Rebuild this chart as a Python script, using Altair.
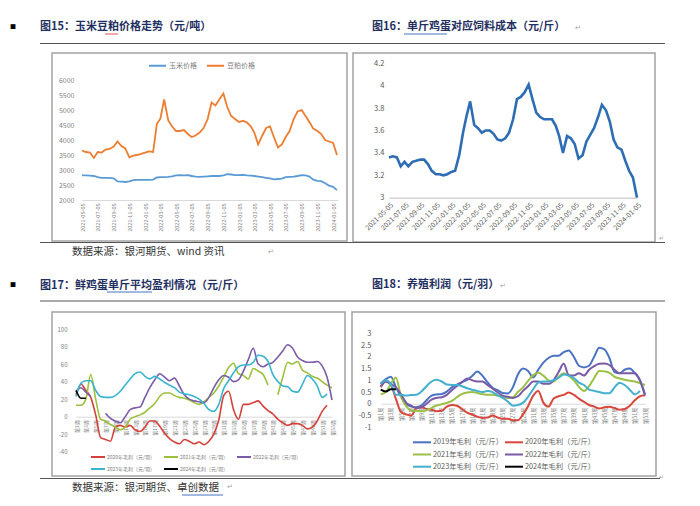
import altair as alt
import pandas as pd

# ---------------- data ----------------
DATES = [
    "2021-05-05", "2021-05-20", "2021-06-05", "2021-06-20", "2021-07-05", "2021-07-20",
    "2021-08-05", "2021-08-20", "2021-09-05", "2021-09-20", "2021-10-05", "2021-10-20",
    "2021-11-05", "2021-11-20", "2021-12-05", "2021-12-20", "2022-01-05", "2022-01-20",
    "2022-02-05", "2022-02-20", "2022-03-05", "2022-03-20", "2022-04-05", "2022-04-20",
    "2022-05-05", "2022-05-20", "2022-06-05", "2022-06-20", "2022-07-05", "2022-07-20",
    "2022-08-05", "2022-08-20", "2022-09-05", "2022-09-20", "2022-10-05", "2022-10-20",
    "2022-11-05", "2022-11-20", "2022-12-05", "2022-12-20", "2023-01-05", "2023-01-20",
    "2023-02-05", "2023-02-20", "2023-03-05", "2023-03-20", "2023-04-05", "2023-04-20",
    "2023-05-05", "2023-05-20", "2023-06-05", "2023-06-20", "2023-07-05", "2023-07-20",
    "2023-08-05", "2023-08-20", "2023-09-05", "2023-09-20", "2023-10-05", "2023-10-20",
    "2023-11-05", "2023-11-20", "2023-12-05", "2023-12-20", "2024-01-05", "2024-01-20",
]
CORN_PRICE = [
    2820, 2820, 2810, 2800, 2760, 2740, 2740, 2740, 2720, 2620,
    2610, 2600, 2620, 2660, 2670, 2670, 2670, 2670, 2680, 2750,
    2760, 2760, 2770, 2790, 2820, 2830, 2820, 2830, 2800, 2780,
    2770, 2780, 2790, 2800, 2800, 2800, 2820, 2860, 2850, 2830,
    2830, 2840, 2820, 2810, 2800, 2780, 2760, 2740, 2720, 2690,
    2700, 2710, 2760, 2770, 2780, 2800, 2830, 2820, 2780, 2680,
    2640, 2630, 2560, 2480, 2440, 2330,
]
MEAL_PRICE = [
    3650, 3600, 3580, 3400, 3600, 3580, 3680, 3700, 3780, 3950,
    3800, 3720, 3420, 3480, 3500, 3540, 3580, 3620, 3600, 4550,
    4700, 5350, 4650, 4450, 4300, 4300, 4330, 4200, 4100, 4150,
    4250, 4400, 4700, 5250, 5150, 5350, 5550, 5100, 4800, 4700,
    4600, 4640, 4580, 4450, 4250, 3850, 4150, 4400, 4450, 4100,
    3750, 3850, 4100, 4300, 4700, 4950, 5000, 4800, 4600, 4380,
    4300, 4200, 4000, 3950, 3900, 3500,
]
SERIES_15 = ["玉米价格", "豆粕价格"]
TICK_MONTHS = [(2021, 5), (2021, 7), (2021, 9), (2021, 11), (2022, 1), (2022, 3),
               (2022, 5), (2022, 7), (2022, 9), (2022, 11), (2023, 1), (2023, 3),
               (2023, 5), (2023, 7), (2023, 9), (2023, 11), (2024, 1)]

FEED_COST = [
    3.36, 3.37, 3.36, 3.28, 3.32, 3.28, 3.32, 3.33, 3.34, 3.34,
    3.30, 3.24, 3.21, 3.21, 3.20, 3.21, 3.23, 3.24, 3.38, 3.58,
    3.72, 3.86, 3.65, 3.62, 3.58, 3.60, 3.60, 3.57, 3.52, 3.51,
    3.53, 3.58, 3.70, 3.88, 3.90, 3.94, 4.01, 3.88, 3.76, 3.72,
    3.70, 3.70, 3.70, 3.64, 3.55, 3.40, 3.55, 3.53, 3.48, 3.35,
    3.38, 3.50, 3.56, 3.62, 3.72, 3.83, 3.78, 3.68, 3.52, 3.45,
    3.43, 3.33, 3.24, 3.18, 3.00,
]

WEEKS = list(range(1, 54))

SERIES_17 = ["2020年毛利（元/羽）", "2021年毛利（元/羽）", "2022年毛利（元/羽）",
             "2023年毛利（元/羽）", "2024年毛利（元/羽）"]
P17_2020 = [25, 37, 30, 22, 2, -24, -26, -28, -12, -10,
            -12, -10, -15, -17, -12, -5, -5, -11, -19, -25,
            -29, -31, -26, -28, -31, -29, -32, -28, -20, -4,
            24, 29, 8, -3, 14, 14, 16, 18, 12, 7,
            3, -3, -7, -10, -8, -8, -10, -14, -12, -5,
            6, 13]
P17_2021 = [13, 13, 20, 48, 20, -3, -5, -9, -12, -15,
            -12, -3, 0, 2, 5, 10, 15, 23, 27, 27,
            24, 22, 21, 19, 16, 14, 17, 22, 27, 35,
            45, 56, 61, 49, 47, 43, 55, 52, 48, 36,
            None, 25, 45, 62, 60, 63, 53, 50, 46, 44,
            40, 36, 33]
P17_2022 = [28, 33, 28, 23, None, None, 4, -2, -5, -7,
            0, 8, 10, 11, 22, 33, 42, 49, 45, 41,
            44, 35, 25, 20, 18, 17, 16, 22, 33, 42,
            47, 45, 40, 42, 52, 65, 78, 60, 57, 60,
            62, 68, 75, 82, 78, 68, 64, 62, 62, 63,
            58, 45, 19]
P17_2023 = [23, 38, 41, 41, 30, 23, 22, 22, 24, 29,
            36, 43, 49, 51, 46, 43, 46, 43, 39, 36,
            33, 28, 26, 25, 23, 20, 15, 8, 6, 14,
            32, 41, 50, 57, 59, 59, 62, 70, 69, 63,
            48, 40, 35, 34, 29, 28, 37, 47, 43, 35,
            22, 26]
P17_2024 = [30, 21, 21]
COLORS_17 = ["#d6403a", "#9dc03c", "#7c5ca8", "#39b4d0", "#000000"]

SERIES_18 = ["2019年毛利（元/斤）", "2020年毛利（元/斤）", "2021年毛利（元/斤）",
             "2022年毛利（元/斤）", "2023年毛利（元/斤）", "2024年毛利（元/斤）"]
P18_2019 = [0.85, 1.05, 1.15, 0.7, 0.3, 0.0, -0.12, -0.15, -0.08, 0.15,
            0.35, 0.4, 0.42, 0.52, 0.7, 0.82, 0.92, 1.02, 1.18, 1.37,
            1.2, 0.92, 0.68, 0.58, 0.46, 0.44, 0.7, 1.25, 1.5, 1.4,
            1.12, 1.45, 1.75, 1.95, 2.05, 2.05, 2.2, 2.27, 2.0, 1.62,
            1.55, 1.62, 2.0, 2.38, 2.32, 1.95, 1.35, 1.3, 1.45, 1.5,
            1.3, 1.0, 0.4]
P18_2020 = [0.7, 0.95, 0.8, 0.2, -0.35, -0.45, -0.5, -0.2, -0.15, -0.22,
            -0.25, -0.32, -0.3, -0.12, -0.05, -0.08, -0.22, -0.38, -0.46, -0.55,
            -0.6, -0.58, -0.5, -0.58, -0.64, -0.64, -0.7, -0.7, -0.45, -0.1,
            0.35, 0.55, 0.05, -0.12, 0.22, 0.32, 0.38, 0.48, 0.38, 0.22,
            0.08, -0.05, -0.12, -0.2, -0.15, -0.13, -0.18, -0.25, -0.22, -0.08,
            0.15, 0.32, 0.36]
P18_2021 = [0.4, 0.5, 0.85, 1.12, 0.3, -0.1, -0.28, -0.3, -0.32, -0.28,
            -0.18, -0.07, -0.02, 0.04, 0.12, 0.28, 0.42, 0.48, 0.5, 0.46,
            0.41, 0.38, 0.38, 0.35, 0.3, 0.25, 0.28, 0.5, 0.7, 0.98,
            1.22, 1.32, 1.2, 1.0, 0.95, 1.15, 1.3, 1.2, 1.0, 0.72,
            0.55, 0.75, 1.1, 1.4, 1.38, 1.32, 1.15, 1.08, 1.02, 0.98,
            0.95, 0.88, 0.8]
P18_2022 = [0.75, 0.95, 0.85, 0.7, 0.4, 0.05, -0.08, -0.18, -0.15, 0.0,
            0.18, 0.25, 0.28, 0.38, 0.58, 0.76, 0.92, 1.08, 1.0, 0.95,
            0.95, 0.8, 0.65, 0.48, 0.35, 0.3, 0.25, 0.32, 0.55, 0.75,
            0.95, 0.95, 0.85, 0.85, 1.0, 1.35, 1.7, 1.22, 1.2, 1.3,
            1.2, 1.45, 1.6, 1.7, 1.72, 1.65, 1.45, 1.3, 1.3, 1.3,
            1.3, 1.0, 0.35]
P18_2023 = [0.85, 1.0, 0.85, 0.38, 0.38, 0.35, 0.37, 0.38, 0.52, 0.75,
            0.95, 1.02, 0.95, 0.82, 0.8, 0.8, 0.75, 0.66, 0.6, 0.55,
            0.5, 0.55, 0.5, 0.36, 0.25, 0.1, -0.08, -0.05, 0.05, 0.3,
            0.62, 0.9, 0.95, 0.95, 1.0, 1.1, 1.25, 1.2, 1.1, 0.9,
            0.8, 0.6, 0.55, 0.5, 0.45, 0.45, 0.7, 0.9, 0.8, 0.6,
            0.4, 0.55]
P18_2024 = [0.6, 0.52, 0.62, 0.62]
COLORS_18 = ["#4a72c4", "#d8463c", "#9cc045", "#7a5aa6", "#43b0d0", "#000000"]

# ---------------- layout helpers ----------------
W, H = 684, 490          # whole canvas (page minus 8px margins)
M = 8                    # page margin
CJK = "Noto Sans CJK SC"
NAVY = "#1f2f5f"
ONE = pd.DataFrame({"k": [0]})
DATE_LABEL = "utcFormat(datum.value, '%Y-%m-%d')"


def vx(x):
    return x - M


def vy(y):
    return y - M


def long_df(xs, named):
    rows = []
    for name, vals in named:
        seg = 0
        for x, v in zip(xs, vals):
            if v is None:
                seg += 1
                continue
            rows.append({"x": x, "value": v, "series": name, "seg": f"{name}-{seg}"})
    return pd.DataFrame(rows)


def text(t, x, y, size, color, weight="normal", align="left"):
    return alt.Chart(ONE).mark_text(
        text=t, align=align, baseline="middle", fontSize=size, color=color,
        fontWeight=weight, font=CJK,
    ).encode(x=alt.value(vx(x)), y=alt.value(vy(y)))


def hline(x0, x1, y, color="#555555", w=1.0):
    return alt.Chart(ONE).mark_rule(color=color, strokeWidth=w).encode(
        x=alt.value(vx(x0)), x2=alt.value(vx(x1)), y=alt.value(vy(y)))


def frame(x0, y0, x1, y1):
    return alt.Chart(ONE).mark_rect(fill="transparent", stroke="#a3a3a3", strokeWidth=1.5).encode(
        x=alt.value(vx(x0)), x2=alt.value(vx(x1)), y=alt.value(vy(y0)), y2=alt.value(vy(y1)))


def utc(y, m, d):
    return alt.DateTime(year=y, month=m, date=d, utc=True)


decor = [
    frame(52, 53, 347, 241), frame(353, 53, 655, 242),
    frame(52, 312, 345, 476), frame(352, 312, 656, 476),
    text("■", 10, 27, 6, "#000000"),
    text("图15：玉米豆粕价格走势（元/吨）", 40, 27, 11, NAVY, "bold"),
    text("图16：单斤鸡蛋对应饲料成本（元/斤）", 372, 27, 11, NAVY, "bold"),
    text("↵", 575, 28, 7, "#a0a0a0"),
    hline(404, 447, 34, "#4472c4", 1), hline(105, 118, 34, "#e05050", 1),
    hline(40, 665, 43.5),
    hline(40, 665, 242.5),
    text("数据来源：银河期货、wind 资讯", 72, 252, 10.5, "#333333"),
    text("↵", 268, 252, 7, "#a0a0a0"),
    text("↵", 659, 238, 6, "#a0a0a0"),
    text("■", 10, 285, 6, "#000000"),
    text("图17：鲜鸡蛋单斤平均盈利情况（元/斤）", 40, 286, 11, NAVY, "bold"),
    hline(107, 152, 292, "#4472c4", 1),
    text("图18：养殖利润（元/羽）", 372, 285, 11, NAVY, "bold"),
    text("↵", 500, 286, 7, "#a0a0a0"),
    hline(40, 665, 301),
    hline(40, 660, 478.5),
    text("数据来源：银河期货、卓创数据", 72, 488, 10.5, "#333333"),
    hline(182, 223, 495, "#4472c4", 1),
    text("↵", 227, 487, 7, "#a0a0a0"),
    text("↵", 659, 477, 6, "#a0a0a0"),
]

# legend of panel 18 (2 columns x 3 rows), drawn as rule + text per series
for i, (name, col) in enumerate(zip(SERIES_18, COLORS_18)):
    lx = 413 + 92 * (i % 2)
    ly = 442.3 + 12.2 * (i // 2)
    decor.append(hline(lx, lx + 18, ly, col, 2))
    decor.append(text(name, lx + 20, ly, 7.3, "#595959"))

# ---------------- panel 15 ----------------
df15 = long_df(DATES, [(SERIES_15[0], CORN_PRICE), (SERIES_15[1], MEAL_PRICE)])
p15 = alt.Chart(df15).mark_line(strokeWidth=1.8).encode(
    x=alt.X("x:T",
            scale=alt.Scale(type="utc", domain=[utc(2021, 5, 5), utc(2024, 1, 24)],
                            range=[vx(82), vx(338)], nice=False),
            axis=alt.Axis(orient="bottom", offset=vy(200) - H, zindex=1,
                          values=[utc(y, m, 5) for y, m in TICK_MONTHS],
                          labelExpr=DATE_LABEL, labelAngle=270,
                          labelFontSize=5.5, labelColor="#7f7f7f", labelPadding=3,
                          labelFlush=False, labelOverlap=False, labelFont=CJK,
                          domainColor="#d9d9d9", ticks=False, grid=False, title=None)),
    y=alt.Y("value:Q",
            scale=alt.Scale(domain=[2000, 6000], range=[vy(200), vy(80)], nice=False, zero=False),
            axis=alt.Axis(orient="left", offset=-vx(76), zindex=1,
                          values=[2000, 2500, 3000, 3500, 4000, 4500, 5000, 5500, 6000],
                          labelExpr="'' + datum.value",
                          labelFontSize=7, labelColor="#7f7f7f", labelPadding=2,
                          labelFont=CJK, domain=False, ticks=False, grid=False, title=None)),
    color=alt.Color("series:N",
                    scale=alt.Scale(domain=SERIES_15, range=["#5b9bd5", "#ed7d31"]),
                    legend=alt.Legend(orient="none", legendX=vx(148), legendY=vy(56),
                                      direction="horizontal", title=None, symbolType="stroke",
                                      symbolSize=289, symbolStrokeWidth=2, labelFontSize=7,
                                      labelColor="#7f7f7f", labelFont=CJK, labelOffset=2,
                                      columnPadding=6, padding=0)),
    detail="seg:N",
)

# ---------------- panel 16 ----------------
df16 = long_df(DATES, [("饲料成本", FEED_COST)])
p16 = alt.Chart(df16).mark_line(strokeWidth=2.6, color="#2e6db4").encode(
    x=alt.X("x:T",
            scale=alt.Scale(type="utc", domain=[utc(2021, 5, 5), utc(2024, 1, 5)],
                            range=[vx(389), vx(637)], nice=False),
            axis=alt.Axis(orient="bottom", offset=vy(197.7) - H, zindex=1,
                          values=[utc(y, m, 5) for y, m in TICK_MONTHS],
                          labelExpr=DATE_LABEL, labelAngle=315,
                          labelFontSize=7, labelColor="#595959", labelPadding=3,
                          labelFlush=False, labelOverlap=False, labelFont=CJK,
                          domainColor="#bfbfbf", ticks=False, grid=False, title=None)),
    y=alt.Y("value:Q",
            scale=alt.Scale(domain=[3, 4.2], range=[vy(197.7), vy(63.3)], nice=False, zero=False),
            axis=alt.Axis(orient="left", offset=-vx(386), zindex=1,
                          values=[3, 3.2, 3.4, 3.6, 3.8, 4, 4.2],
                          labelExpr="'' + datum.value",
                          labelFontSize=7.5, labelColor="#595959", labelPadding=2,
                          labelFont=CJK, domain=False, ticks=False, grid=False, title=None)),
)

# ---------------- panel 17 ----------------
df17 = long_df(WEEKS, list(zip(SERIES_17, [P17_2020, P17_2021, P17_2022, P17_2023, P17_2024])))
p17 = alt.Chart(df17).mark_line(strokeWidth=1.6, interpolate="monotone").encode(
    x=alt.X("x:Q",
            scale=alt.Scale(domain=[1, 53], range=[vx(76), vx(332)], nice=False, zero=False),
            axis=alt.Axis(orient="bottom", offset=vy(416.7) - H,
                          values=list(range(1, 54, 2)),
                          labelExpr="'第' + datum.value + '周'", labelAngle=270,
                          labelFontSize=5, labelColor="#7f7f7f", labelPadding=3,
                          labelFlush=False, labelOverlap=False, labelFont=CJK,
                          domainColor="#d9d9d9", ticks=False, grid=False, title=None)),
    y=alt.Y("value:Q",
            scale=alt.Scale(domain=[-40, 100], range=[vy(451.7), vy(329)], nice=False, zero=False),
            axis=alt.Axis(orient="left", offset=-vx(69),
                          values=[-40, -20, 0, 20, 40, 60, 80, 100],
                          labelExpr="'' + datum.value",
                          labelFontSize=6, labelColor="#7f7f7f", labelPadding=2,
                          labelFont=CJK, domain=False, ticks=False, grid=False, title=None)),
    color=alt.Color("series:N",
                    scale=alt.Scale(domain=SERIES_17, range=COLORS_17),
                    legend=alt.Legend(orient="none", legendX=vx(90), legendY=vy(449),
                                      direction="horizontal", columns=3, title=None,
                                      symbolType="stroke", symbolSize=196, symbolStrokeWidth=2,
                                      labelFontSize=5, labelColor="#7f7f7f", labelFont=CJK,
                                      labelOffset=1, columnPadding=4, rowPadding=0, padding=0)),
    detail="seg:N",
)

# ---------------- panel 18 ----------------
df18 = long_df(WEEKS, list(zip(SERIES_18, [P18_2019, P18_2020, P18_2021, P18_2022, P18_2023, P18_2024])))
p18 = alt.Chart(df18).mark_line(strokeWidth=2, interpolate="monotone").encode(
    x=alt.X("x:Q",
            scale=alt.Scale(domain=[1, 53], range=[vx(380.7), vx(645)], nice=False, zero=False),
            axis=alt.Axis(orient="bottom", offset=vy(403.7) - H,
                          values=list(range(1, 54, 2)),
                          labelExpr="'第' + datum.value + '周'", labelAngle=270,
                          labelFontSize=5.5, labelColor="#7f7f7f", labelPadding=3,
                          labelFlush=False, labelOverlap=False, labelFont=CJK,
                          domainColor="#d9d9d9", ticks=False, grid=False, title=None)),
    y=alt.Y("value:Q",
            scale=alt.Scale(domain=[-1, 3], range=[vy(427.3), vy(333.3)], nice=False, zero=False),
            axis=alt.Axis(orient="left", offset=-vx(373), zindex=1,
                          values=[-1, -0.5, 0, 0.5, 1, 1.5, 2, 2.5, 3],
                          labelExpr="'' + datum.value",
                          labelFontSize=7.5, labelColor="#595959", labelPadding=2,
                          labelFont=CJK, domain=False, ticks=False, grid=False, title=None)),
    color=alt.Color("series:N",
                    scale=alt.Scale(domain=SERIES_18, range=COLORS_18),
                    legend=None),
    detail="seg:N",
)

chart = alt.layer(*decor, p15, p16, p17, p18).resolve_scale(
    x="independent", y="independent", color="independent"
).properties(
    width=W, height=H, padding=0,
    autosize=alt.AutoSizeParams(type="none"),
).configure_view(stroke="transparent")

chart.save("out.html", embed_options={"renderer": "svg", "actions": False})
